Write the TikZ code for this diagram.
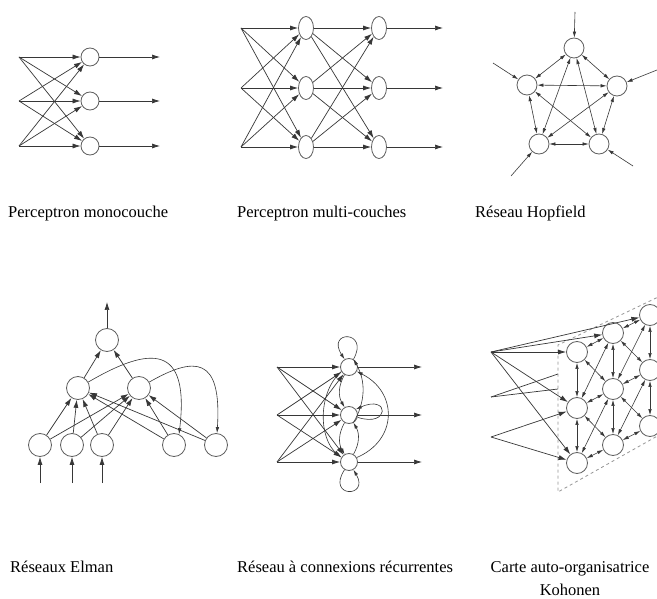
\documentclass[tikz,border=0pt]{standalone}
\usepackage{fontspec}
\setmainfont{Liberation Serif}
\usepackage{tikz}
\usetikzlibrary{arrows.meta, calc, shapes.geometric}
\definecolor{TraitNoir}{RGB}{55, 55, 55}
\definecolor{BordGris}{RGB}{95, 95, 95}
\definecolor{PlanGris}{RGB}{150, 150, 150}

\tikzset{
  neurone/.style={circle, draw=BordGris, line width=0.8pt, fill=white,
    minimum size=18pt, inner sep=0pt},
  neuroneOv/.style={ellipse, draw=BordGris, line width=0.8pt, fill=white,
    minimum width=15pt, minimum height=23pt, inner sep=0pt},
  lien/.style={draw=TraitNoir, line width=0.7pt, -{Latex[length=8pt, width=5pt]}},
  lienFin/.style={draw=TraitNoir, line width=0.6pt, -{Latex[length=6pt, width=3.5pt]}},
  lienDouble/.style={draw=TraitNoir, line width=0.6pt,
    {Latex[length=6pt, width=3.5pt]}-{Latex[length=6pt, width=3.5pt]}},
  legende/.style={font=\fontsize{16.5}{20}\selectfont, anchor=base west, inner sep=0pt}
}

\begin{document}
\begin{tikzpicture}[x=1pt, y=-1pt]
  \useasboundingbox (0,0) rectangle (657,599);
  \fill[white] (0,0) rectangle (657,599);
  \clip (0,0) rectangle (657,599);

  % perceptron monocouche
  \foreach \i/\y in {1/57, 2/101, 3/146} {
    \coordinate (pm-e\i) at (19,\y);
    \node[neurone] (pm-n\i) at (90,\y) {};
    \coordinate (pm-s\i) at (160,\y);
  }
  \foreach \i in {1,2,3}
    \foreach \j in {1,2,3}
      \draw[lien] (pm-e\i) -- (pm-n\j);
  \foreach \i in {1,2,3}
    \draw[lien] (pm-n\i) -- (pm-s\i);

  % perceptron multi-couches
  \foreach \i/\y in {1/28, 2/88, 3/147} {
    \coordinate (mc-e\i) at (241,\y);
    \node[neuroneOv] (mc-c\i) at (306,\y) {};
    \node[neuroneOv] (mc-n\i) at (379,\y) {};
    \coordinate (mc-s\i) at (443,\y);
  }
  \foreach \i in {1,2,3}
    \foreach \j in {1,2,3} {
      \draw[lien] (mc-e\i) -- (mc-c\j);
      \draw[lien] (mc-c\i) -- (mc-n\j);
    }
  \foreach \i in {1,2,3}
    \draw[lien] (mc-n\i) -- (mc-s\i);

  % Hopfield
  \foreach \i/\x/\y in {1/574/48, 2/527/85, 3/617/86, 4/539/144, 5/599/144}
    \node[neurone, minimum size=20pt] (hf-\i) at (\x,\y) {};
  \foreach \a/\b in {1/2, 1/3, 1/4, 1/5, 2/3, 2/4, 2/5, 3/4, 3/5, 4/5}
    \draw[lienDouble] (hf-\a) -- (hf-\b);
  \foreach \i/\x/\y in {1/575/12, 2/493/63, 3/657/70, 4/511/176, 5/633/166} {
    \coordinate (hf-e\i) at (\x,\y);
    \draw[lienFin] (hf-e\i) -- (hf-\i);
  }

  % Elman
  \node[neurone, minimum size=23pt] (el-s) at (107,340) {};
  \node[neurone, minimum size=23pt] (el-c1) at (78,388) {};
  \node[neurone, minimum size=23pt] (el-c2) at (139,388) {};
  \foreach \n/\x in {x1/40, x2/72, x3/102, k1/174, k2/216}
    \node[neurone, minimum size=23pt] (el-\n) at (\x,445) {};
  \coordinate (el-sortie) at (107,302);
  \draw[lien] (el-s) -- (el-sortie);
  \draw[lien] (el-c1) -- (el-s);
  \draw[lien] (el-c2) -- (el-s);
  \foreach \n in {x1, x2, x3, k1, k2} {
    \draw[lien] (el-\n) -- (el-c1);
    \draw[lien] (el-\n) -- (el-c2);
  }
  \foreach \n/\x in {x1/40, x2/72, x3/102} {
    \coordinate (el-e\n) at (\x,483);
    \draw[lien] (el-e\n) -- (el-\n);
  }
  \draw[lienFin] (el-c1.30) .. controls (150,346) and (190,343) .. (el-k1.65);
  \draw[lienFin] (el-c2.30) .. controls (195,356) and (222,356) .. (el-k2.85);

  % connexions recurrentes
  \foreach \i/\y in {1/367, 2/415, 3/462} {
    \coordinate (rc-e\i) at (277,\y);
    \node[neurone, minimum size=17pt] (rc-n\i) at (349,\y) {};
    \coordinate (rc-s\i) at (422,\y);
  }
  \foreach \i in {1,2,3}
    \foreach \j in {1,2,3}
      \draw[lien] (rc-e\i) -- (rc-n\j);
  \foreach \i in {1,2,3}
    \draw[lien] (rc-n\i) -- (rc-s\i);
  \draw[lienFin] (rc-n1.60) .. controls (370,330) and (326,330) .. (rc-n1.120);
  \draw[lienFin] (rc-n3.240) .. controls (326,498) and (370,498) .. (rc-n3.300);
  \draw[lienFin] (rc-n2.-15) .. controls (390,428) and (390,394) .. (rc-n2.40);
  \draw[lienFin] (rc-n1.240) to[bend right=30] (rc-n2.120);
  \draw[lienFin] (rc-n2.300) to[bend right=30] (rc-n1.60);
  \draw[lienFin] (rc-n2.240) to[bend right=30] (rc-n3.120);
  \draw[lienFin] (rc-n3.60) to[bend right=30] (rc-n2.300);
  \draw[lienFin] (rc-n3.30) .. controls (398,440) and (398,392) .. (rc-n1.-30);
  \draw[lienFin] (rc-n1.210) .. controls (318,392) and (318,438) .. (rc-n3.150);

  % carte de Kohonen
  \draw[PlanGris, dashed, line width=0.8pt] (700,277) -- (558,345) -- (558,492) -- (700,412);
  \foreach \i/\y in {1/352, 2/397, 3/437}
    \coordinate (ko-e\i) at (491,\y);
  \foreach \c/\x/\ya/\yb/\yc in {a/577/352/408/463, b/613/333/389/445, c/650/315/370/426} {
    \node[neurone, minimum size=21pt] (ko-\c1) at (\x,\ya) {};
    \node[neurone, minimum size=21pt] (ko-\c2) at (\x,\yb) {};
    \node[neurone, minimum size=21pt] (ko-\c3) at (\x,\yc) {};
  }
  \foreach \n in {a1, b1, c1, a2, a3}
    \draw[lien] (ko-e1) -- (ko-\n);
  \coordinate (ko-p1) at (558,374);
  \coordinate (ko-p2) at (558,389);
  \draw[TraitNoir, line width=0.7pt] (ko-e2) -- (ko-p1);
  \draw[TraitNoir, line width=0.7pt] (ko-e2) -- (ko-p2);
  \draw[lien] (ko-e3) -- (ko-a2);
  \draw[lien] (ko-e3) -- (ko-a3);
  \foreach \c in {a, b, c} {
    \draw[lienDouble] (ko-\c1) -- (ko-\c2);
    \draw[lienDouble] (ko-\c2) -- (ko-\c3);
  }
  \foreach \g/\d in {a/b, b/c}
    \foreach \i/\j in {1/1, 1/2, 2/1, 2/2, 2/3, 3/2, 3/3}
      \draw[lienDouble] (ko-\g\i) -- (ko-\d\j);

  % legendes
  \node[legende] (t-mono) at (8,218) {Perceptron monocouche};
  \node[legende] (t-multi) at (237,218) {Perceptron multi-couches};
  \node[legende] (t-hopf) at (475,218) {Réseau Hopfield};
  \node[legende] (t-elman) at (10,572) {Réseaux Elman};
  \node[legende] (t-recur) at (237,572) {Réseau à connexions récurrentes};
  \node[font=\fontsize{16.5}{23}\selectfont, align=center, anchor=north, inner sep=0pt]
    (t-koho) at (570,561) {Carte auto-organisatrice\\Kohonen};
\end{tikzpicture}
\end{document}
